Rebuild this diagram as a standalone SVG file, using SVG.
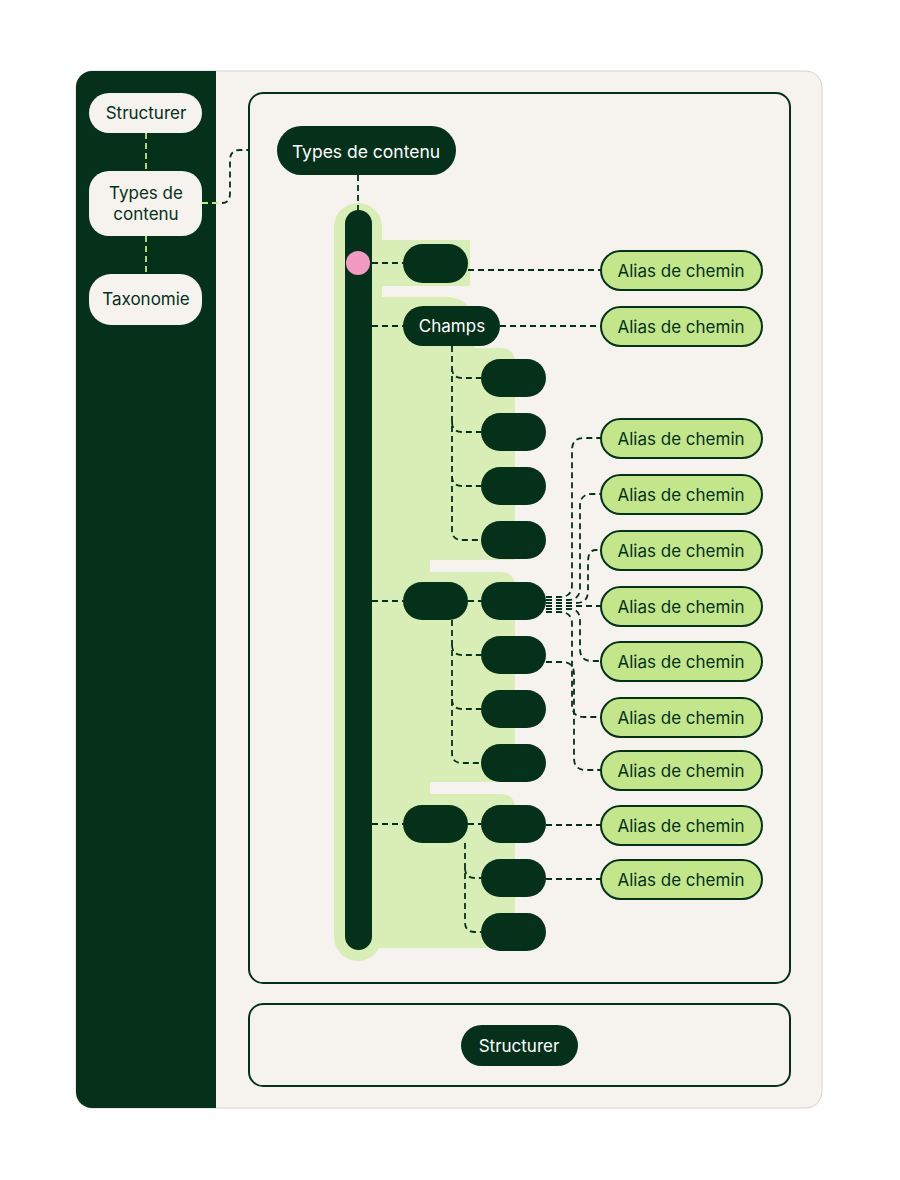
<svg xmlns="http://www.w3.org/2000/svg" width="900" height="1180" viewBox="0 0 900 1180">
<style>
.dk{fill:#05301a}
.lt{fill:#f6f3ef;stroke:#05301a;stroke-width:2}
.sb{fill:#f6f3ef}
.al{fill:#c3e68b;stroke:#05301a;stroke-width:2}
.bg{fill:#d9eeb7}
.c{fill:none;stroke:#05301a;stroke-width:1.8;stroke-dasharray:6 4}
.g{fill:none;stroke:#c3e68b;stroke-width:1.8;stroke-dasharray:6 4}
text{font-family:Inter,"Noto Sans","Liberation Sans",sans-serif;font-size:17px;text-anchor:middle;dominant-baseline:central}
.w{fill:#ffffff}
.d{fill:#05301a}
</style>
<rect x="0" y="0" width="900" height="1180" fill="#ffffff"/>
<rect x="76" y="71" width="746" height="1037" rx="16" fill="#f6f3ef" stroke="#d8d4d0"/>
<path d="M92 71 H216 V1108 H92 A16 16 0 0 1 76 1092 V87 A16 16 0 0 1 92 71 Z" class="dk"/>
<rect x="249" y="93" width="541" height="890" rx="14" class="lt"/>
<rect x="249" y="1004" width="541" height="82" rx="14" class="lt"/>
<g id="bgshapes">
<rect x="334" y="203" width="48" height="758" rx="24" class="bg"/>
<path d="M372 240 H470 V286 H372 Z" class="bg"/>
<path d="M372 297 H445 Q470 297 475 320 V348 H500 Q515 348 515 362 V560 H430 V572 H372 Z" class="bg"/>
<path d="M372 572 H500 Q515 572 515 586 V782 H430 V794 H372 Z" class="bg"/>
<path d="M372 794 H500 Q515 794 515 808 V948 H372 Z" class="bg"/>
</g>
<g id="connectors">
<path class="g" d="M146 133 V171 M146 236 V274 M202 203 H222"/>
<path class="c" d="M222 203 Q230 203 230 193 V160 Q230 150 240 150 H249"/>
<path class="c" d="M358 175 V210"/>
<path class="c" d="M372 263 H403 M468 270 H601 M372 326 H403 M500 326 H601"/>
<path class="c" d="M452 346 V530 Q452 540 462 540 H481 M452 368 Q452 378 462 378 H481 M452 422 Q452 432 462 432 H481 M452 476 Q452 486 462 486 H481"/>
<path class="c" d="M372 601 H403 M468 601 H481 M452 620 V753 Q452 763 462 763 H481 M452 645 Q452 655 462 655 H481 M452 699 Q452 709 462 709 H481"/>
<path class="c" d="M546 597 H560 Q572 597 572 585 V450 Q572 438 584 438 H601"/>
<path class="c" d="M546 600 H568 Q580 600 580 588 V506 Q580 494 592 494 H601"/>
<path class="c" d="M546 603 H576 Q588 603 588 591 V562 Q588 550 596 550 H601"/>
<path class="c" d="M546 606 H601"/>
<path class="c" d="M546 609 H570 Q580 609 580 621 V649 Q580 661 592 661 H601"/>
<path class="c" d="M546 612 H560 Q572 612 572 624 V705 Q572 717 584 717 H601"/>
<path class="c" d="M546 662 H562 Q574 662 574 674 V758 Q574 770 586 770 H601"/>
<path class="c" d="M372 824 H403 M468 824 H481 M465 843 V922 Q465 932 475 932 H481 M465 868 Q465 878 475 878 H481 M546 825 H601 M546 879 H601"/>
</g>
<g id="side-structurer"><rect x="89" y="93" width="113" height="40" rx="20" class="sb"/><text x="146" y="113" class="d">Structurer</text></g>
<g id="side-types"><rect x="89" y="171" width="113" height="65" rx="20" class="sb"/><text x="146" y="193" class="d">Types de</text><text x="146" y="214" class="d">contenu</text></g>
<g id="side-taxonomie"><rect x="89" y="274" width="113" height="51" rx="22" class="sb"/><text x="146" y="299" class="d">Taxonomie</text></g>
<g id="types-contenu"><rect x="277" y="126" width="179" height="49" rx="24.5" class="dk"/><text x="366" y="151" class="w" style="font-size:17.5px">Types de contenu</text></g>
<g id="bar"><rect x="345" y="210" width="27" height="740" rx="13.5" class="dk"/><circle cx="358" cy="263" r="12" fill="#f29bc2"/></g>
<g id="n1"><rect x="403" y="244" width="65" height="39" rx="19.5" class="dk"/></g>
<g id="champs"><rect x="403" y="306" width="97" height="40" rx="20" class="dk"/><text x="452" y="326" class="w">Champs</text></g>
<g id="c1"><rect x="481" y="359" width="65" height="38" rx="19" class="dk"/></g>
<g id="c2"><rect x="481" y="413" width="65" height="38" rx="19" class="dk"/></g>
<g id="c3"><rect x="481" y="467" width="65" height="38" rx="19" class="dk"/></g>
<g id="c4"><rect x="481" y="521" width="65" height="38" rx="19" class="dk"/></g>
<g id="g2"><rect x="403" y="582" width="65" height="38" rx="19" class="dk"/></g>
<g id="g2c1"><rect x="481" y="582" width="65" height="38" rx="19" class="dk"/></g>
<g id="g2c2"><rect x="481" y="636" width="65" height="38" rx="19" class="dk"/></g>
<g id="g2c3"><rect x="481" y="690" width="65" height="38" rx="19" class="dk"/></g>
<g id="g2c4"><rect x="481" y="744" width="65" height="38" rx="19" class="dk"/></g>
<g id="g3"><rect x="403" y="805" width="65" height="38" rx="19" class="dk"/></g>
<g id="g3c1"><rect x="481" y="805" width="65" height="38" rx="19" class="dk"/></g>
<g id="g3c2"><rect x="481" y="859" width="65" height="38" rx="19" class="dk"/></g>
<g id="g3c3"><rect x="481" y="913" width="65" height="38" rx="19" class="dk"/></g>
<g id="a1"><rect x="601" y="251" width="161" height="39" rx="19.5" class="al"/><text x="681" y="271" class="d">Alias de chemin</text></g>
<g id="a2"><rect x="601" y="307" width="161" height="39" rx="19.5" class="al"/><text x="681" y="327" class="d">Alias de chemin</text></g>
<g id="a3"><rect x="601" y="419" width="161" height="39" rx="19.5" class="al"/><text x="681" y="439" class="d">Alias de chemin</text></g>
<g id="a4"><rect x="601" y="475" width="161" height="39" rx="19.5" class="al"/><text x="681" y="495" class="d">Alias de chemin</text></g>
<g id="a5"><rect x="601" y="531" width="161" height="39" rx="19.5" class="al"/><text x="681" y="551" class="d">Alias de chemin</text></g>
<g id="a6"><rect x="601" y="587" width="161" height="39" rx="19.5" class="al"/><text x="681" y="607" class="d">Alias de chemin</text></g>
<g id="a7"><rect x="601" y="642" width="161" height="39" rx="19.5" class="al"/><text x="681" y="662" class="d">Alias de chemin</text></g>
<g id="a8"><rect x="601" y="698" width="161" height="39" rx="19.5" class="al"/><text x="681" y="718" class="d">Alias de chemin</text></g>
<g id="a9"><rect x="601" y="751" width="161" height="39" rx="19.5" class="al"/><text x="681" y="771" class="d">Alias de chemin</text></g>
<g id="a10"><rect x="601" y="806" width="161" height="39" rx="19.5" class="al"/><text x="681" y="826" class="d">Alias de chemin</text></g>
<g id="a11"><rect x="601" y="860" width="161" height="39" rx="19.5" class="al"/><text x="681" y="880" class="d">Alias de chemin</text></g>
<g id="structurer"><rect x="461" y="1025" width="117" height="41" rx="20.5" class="dk"/><text x="519" y="1046" class="w">Structurer</text></g>
</svg>
